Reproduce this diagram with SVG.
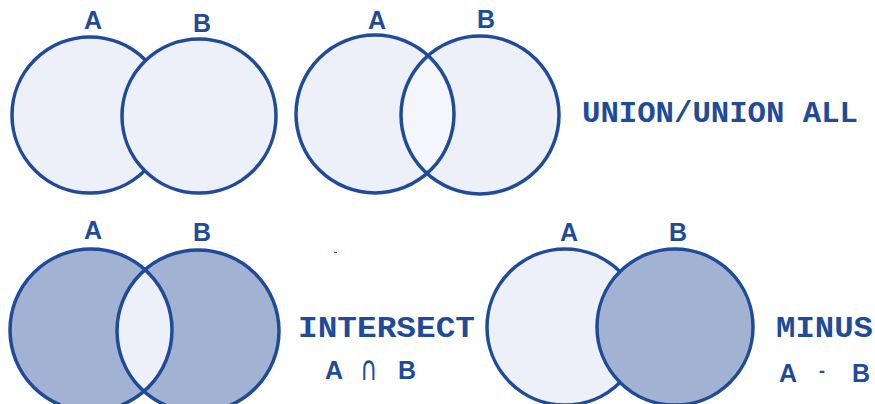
<svg xmlns="http://www.w3.org/2000/svg" width="875" height="404" viewBox="0 0 875 404">
<style>
.c{stroke:#1f4b98;stroke-width:3.5}
.l{fill:#edf0f8}
.d{fill:#a1b2d3}
.n{fill:none}
.lab{font-family:"Liberation Sans",Arial,sans-serif;font-weight:bold;font-size:25px;fill:#1f4b98;text-anchor:middle}
.sym{font-family:"DejaVu Sans",sans-serif;font-size:34px;font-weight:bold;fill:#1f4b98;text-anchor:middle}
.mono{font-family:"Liberation Mono","Courier New",monospace;font-weight:bold;font-size:30px;fill:#1f4b98}
</style>
<defs>
<clipPath id="clipA2"><circle cx="375" cy="114" r="79"/></clipPath>
<clipPath id="clipA3"><circle cx="91" cy="330" r="81"/></clipPath>
</defs>
<rect width="875" height="404" fill="#ffffff"/>
<g id="union-plain">
<circle class="c l" cx="90" cy="115" r="78"/>
<circle class="c l" cx="199" cy="116" r="77"/>
<text class="lab" x="93" y="29">A</text>
<text class="lab" x="202" y="32">B</text>
</g>
<g id="union-all">
<circle class="l" cx="375" cy="114" r="79"/>
<circle class="l" cx="480" cy="115" r="79"/>
<circle fill="#f4f6fb" cx="480" cy="115" r="79" clip-path="url(#clipA2)"/>
<circle class="c n" cx="375" cy="114" r="79"/>
<circle class="c n" cx="480" cy="115" r="79"/>
<text class="lab" x="377" y="29">A</text>
<text class="lab" x="486" y="28">B</text>
</g>
<g id="union-label">
<text class="mono" x="582" y="122" textLength="276" lengthAdjust="spacingAndGlyphs">UNION/UNION ALL</text>
</g>
<g id="intersect">
<circle class="d" cx="91" cy="330" r="81"/>
<circle class="d" cx="198" cy="331" r="81"/>
<circle class="l" cx="198" cy="331" r="81" clip-path="url(#clipA3)"/>
<circle class="c n" cx="91" cy="330" r="81"/>
<circle class="c n" cx="198" cy="331" r="81"/>
<text class="lab" x="93" y="239">A</text>
<text class="lab" x="202" y="241">B</text>
</g>
<g id="intersect-label">
<line x1="334" y1="252.5" x2="337" y2="252.5" stroke="#1f4b98" stroke-width="1"/>
<text class="mono" x="298" y="337" textLength="177" lengthAdjust="spacingAndGlyphs">INTERSECT</text>
<text class="lab" x="334" y="379">A</text>
<text class="sym" x="369" y="380" style="font-weight:normal" transform="translate(369 380) scale(0.7 1) translate(-369 -380)">∩</text>
<text class="lab" x="407" y="379">B</text>
</g>
<g id="minus">
<circle class="c l" cx="565" cy="327" r="78"/>
<circle class="c d" cx="675" cy="327" r="78"/>
<text class="lab" x="569" y="241">A</text>
<text class="lab" x="678" y="241">B</text>
</g>
<g id="minus-label">
<text class="mono" x="776" y="337" textLength="97" lengthAdjust="spacingAndGlyphs">MINUS</text>
<text class="lab" x="788" y="382">A</text>
<text class="lab" x="822" y="377" style="font-size:18px">-</text>
<text class="lab" x="861" y="382">B</text>
</g>
<g id="connectors"/>
</svg>
